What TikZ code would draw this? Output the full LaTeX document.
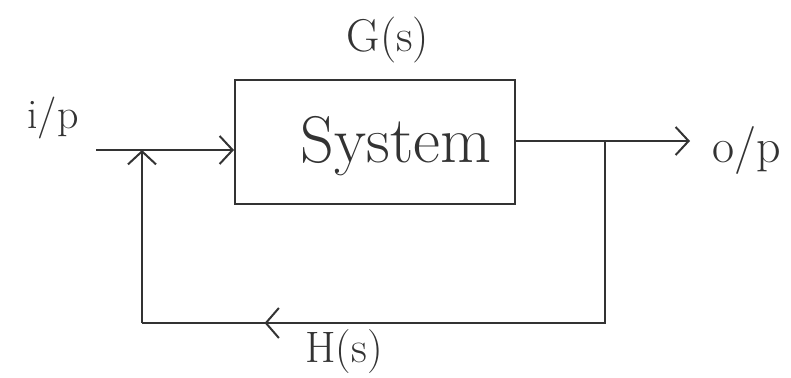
\documentclass[tikz,border=0pt]{standalone}
\usetikzlibrary{arrows.meta,decorations.markings}
\begin{document}
\begin{tikzpicture}[x=1pt,y=-1pt,
  wire/.style={line width=2pt, draw=black!80},
  tip/.style={-{Straight Barb[length=13pt,width=28pt,line width=2pt]}},
  blockbox/.style={draw=black!80, line width=2pt, minimum width=280pt, minimum height=124pt, inner sep=0pt},
  lbl/.style={text=black!80, inner sep=0pt},
  midleft/.style={postaction={decorate}, decoration={markings,
      mark=at position 0.81 with {\arrow{Straight Barb[length=13pt,width=30pt,line width=2pt]}}}}]
  \useasboundingbox (0,0) rectangle (791,377);

  % forward block
  \node[blockbox] (sys) at (375,142) {};
  \node[lbl, font=\fontsize{66}{70}\selectfont] (systxt) at (396,146) {System};
  \node[lbl, font=\fontsize{46}{50}\selectfont] (g) at (388,40) {G(s)};

  % input side
  \node[lbl, font=\fontsize{42}{46}\selectfont] (ip) at (53,118) {i/p};
  \coordinate (in) at (96,150);
  \coordinate (sum) at (142,150);

  % output side
  \coordinate (branch) at (605,141);
  \coordinate (otip) at (690,141);
  \node[lbl, font=\fontsize{48}{52}\selectfont, anchor=west] (op) at (712,150) {o/p};

  % feedback corners
  \coordinate (br) at (605,323);
  \coordinate (bl) at (142,323);
  \node[lbl, font=\fontsize{44}{48}\selectfont] (h) at (344,352) {H(s)};

  % connectors
  \draw[wire] (in) -- (sum);
  \draw[wire, tip] (sum) -- (sys.west |- sum);
  \draw[wire, tip] (sys.east |- branch) -- (otip);
  \draw[wire, midleft] (branch) -- (br) -- (bl);
  \draw[wire, tip] (bl) -- (sum);
\end{tikzpicture}
\end{document}
